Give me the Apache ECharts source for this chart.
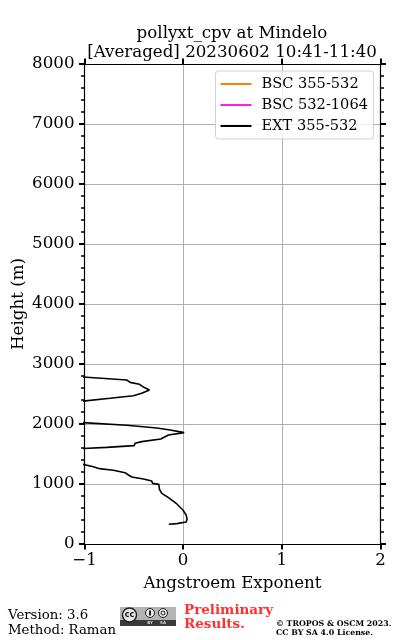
<!DOCTYPE html>
<html>
<head>
<meta charset="utf-8">
<style>html,body{margin:0;padding:0;background:#fff}#c{width:400px;height:640px}</style>
<script src="https://cdn.jsdelivr.net/npm/echarts@6/dist/echarts.min.js"></script>
</head>
<body>
<div id="c"></div>
<script>
const titleLines = ['pollyxt_cpv at Mindelo', '[Averaged] 20230602 10:41-11:40'];
const xLabel = 'Angstroem Exponent';
const yLabel = 'Height (m)';
const seriesNames = ['BSC 355-532', 'BSC 532-1064', 'EXT 355-532'];
const seriesColors = ['#ff7f0e', '#ff1fe8', '#000000'];
const bsc355532 = [];
const bsc5321064 = [];
const extValues = [-0.146,-0.064,0.03,0.04,0.03,-0.003,-0.064,-0.149,-0.217,-0.24,-0.247,-0.311,-0.318,-0.403,-0.521,-0.555,-0.589,-0.707,-0.849,-0.91,-1.02,
  null,
  -1.02,-0.775,-0.497,-0.487,-0.42,-0.227,-0.217,-0.149,0.01,-0.132,-0.267,-0.572,-1.02,
  null,
  -1.02,-0.741,-0.504,-0.42,-0.342,-0.409,-0.443,-0.538,-0.572,-1.02];
const extHeights = [328,339,367,411,483,567,667,772,844,911,994,1011,1050,1083,1117,1150,1189,1228,1256,1289,1330,
  null,
  1592,1611,1639,1678,1706,1750,1783,1817,1856,1900,1933,1978,2024,
  null,
  2381,2428,2472,2511,2567,2622,2661,2694,2733,2785];
const footerLeft = ['Version: 3.6', 'Method: Raman'];
const footerRed = ['Preliminary', 'Results.'];
const footerCopy = ['© TROPOS & OSCM 2023.', 'CC BY SA 4.0 License.'];

const F = '"DejaVu Serif"';
const chart = echarts.init(document.getElementById('c'), null, {renderer: 'canvas'});
const axisCommon = {
  axisLine: {show: true, onZero: false, lineStyle: {color: '#000', width: 1.2}},
  axisTick: {show: true, length: 5.5, inside: false, lineStyle: {color: '#000', width: 2}},
  minorTick: {show: false},
  nameMoveOverlap: false,
  nameTextStyle: {fontFamily: F, fontSize: 16.67, color: '#000'},
  axisLabel: {fontFamily: F, fontSize: 16.67, color: '#000', hideOverlap: false, showMinLabel: true, showMaxLabel: true}
};
const xBase = {type: 'value', min: -1, max: 2, interval: 1};
const yBase = {type: 'value', min: 0, max: 8000, interval: 1000};
const yMinor = {show: true, splitNumber: 5, length: 3.5, lineStyle: {color: '#000', width: 1.5}};
chart.setOption({
  animation: false,
  backgroundColor: '#fff',
  title: {
    text: titleLines.join('\n'),
    left: 227, top: 19, textAlign: 'center',
    textStyle: {fontFamily: F, fontSize: 16.67, fontWeight: 'normal', color: '#000', lineHeight: 19}
  },
  grid: {left: 84.5, width: 296, top: 64, height: 480, containLabel: false, outerBoundsMode: 'none'},
  xAxis: [
    Object.assign({}, axisCommon, xBase, {
      position: 'bottom', name: xLabel, nameLocation: 'middle', nameGap: 31,
      axisLabel: Object.assign({}, axisCommon.axisLabel, {margin: 8, formatter: v => String(v).replace('-', '\u2212')}),
      splitLine: {show: true, lineStyle: {color: '#b0b0b0', width: 1}}
    }),
    Object.assign({}, axisCommon, xBase, {position: 'top', axisLabel: {show: false}, splitLine: {show: false}})
  ],
  yAxis: [
    Object.assign({}, axisCommon, yBase, {
      position: 'left', name: yLabel, nameLocation: 'middle', nameGap: 57,
      axisLabel: Object.assign({}, axisCommon.axisLabel, {margin: 10, padding: [3, 0, 0, 0], formatter: v => String(v)}),
      minorTick: yMinor,
      splitLine: {show: true, lineStyle: {color: '#b0b0b0', width: 1}}
    }),
    Object.assign({}, axisCommon, yBase, {
      position: 'right', axisLabel: {show: false}, minorTick: yMinor, splitLine: {show: false}
    })
  ],
  legend: {
    left: 215.5, top: 71, width: 158, orient: 'vertical',
    padding: [4, 5.5, 4, 5], itemGap: 3, itemWidth: 31, itemHeight: 2,
    backgroundColor: 'rgba(255,255,255,0.8)', borderColor: '#d0d0d0', borderWidth: 1, borderRadius: 3,
    data: seriesNames.map((n, i) => ({name: n, icon: 'rect', itemStyle: {color: seriesColors[i]}})),
    textStyle: {fontFamily: F, fontSize: 14.6, color: '#000', padding: [0, 0, 0, 5], height: 18, lineHeight: 18}
  },
  series: [
    {name: seriesNames[0], type: 'line', data: bsc355532, showSymbol: false, lineStyle: {color: seriesColors[0]}, itemStyle: {color: seriesColors[0]}},
    {name: seriesNames[1], type: 'line', data: bsc5321064, showSymbol: false, lineStyle: {color: seriesColors[1]}, itemStyle: {color: seriesColors[1]}},
    {name: seriesNames[2], type: 'line', showSymbol: false, symbol: 'none', connectNulls: false, clip: true,
     lineStyle: {color: seriesColors[2], width: 1.6}, itemStyle: {color: seriesColors[2]},
     data: extValues.map((v, i) => [v, extHeights[i]])}
  ],
  graphic: [
    {type: 'text', left: 8, top: 608, style: {text: footerLeft.join('\n'), font: '13.3px ' + F, fill: '#000', lineHeight: 15}},
    {type: 'group', left: 120, top: 607, children: [
      {type: 'rect', shape: {x: 0, y: 0, width: 56, height: 19}, style: {fill: '#b4b4b4'}},
      {type: 'rect', shape: {x: 0, y: 13, width: 56, height: 6}, style: {fill: '#3a3a3a'}},
      {type: 'circle', shape: {cx: 9.5, cy: 8, r: 7}, style: {fill: '#e8e8e8', stroke: '#222', lineWidth: 1.5}},
      {type: 'text', style: {x: 9.5, y: 8, text: 'cc', font: 'bold 8px "DejaVu Sans"', fill: '#111', align: 'center', verticalAlign: 'middle'}},
      {type: 'circle', shape: {cx: 30, cy: 6, r: 4.5}, style: {fill: '#e8e8e8', stroke: '#222', lineWidth: 1}},
      {type: 'rect', shape: {x: 29, y: 3.5, width: 2, height: 5}, style: {fill: '#222'}},
      {type: 'circle', shape: {cx: 43, cy: 6, r: 4.5}, style: {fill: '#e8e8e8', stroke: '#222', lineWidth: 1}},
      {type: 'circle', shape: {cx: 43, cy: 6, r: 2}, style: {fill: 'none', stroke: '#222', lineWidth: 1}},
      {type: 'text', style: {x: 30, y: 16, text: 'BY', font: 'bold 4px "DejaVu Sans"', fill: '#ddd', align: 'center', verticalAlign: 'middle'}},
      {type: 'text', style: {x: 43, y: 16, text: 'SA', font: 'bold 4px "DejaVu Sans"', fill: '#ddd', align: 'center', verticalAlign: 'middle'}}
    ]},
    {type: 'text', left: 184, top: 603, style: {text: footerRed.join('\n'), font: 'bold 13.5px ' + F, fill: '#ff3030', lineHeight: 14}},
    {type: 'text', left: 276, top: 619, style: {text: footerCopy.join('\n'), font: 'bold 7.85px ' + F, fill: '#000', lineHeight: 9.5}}
  ]
});
</script>
</body>
</html>
